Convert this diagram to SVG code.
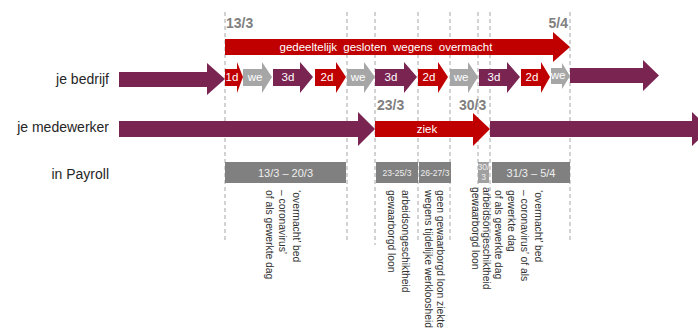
<svg xmlns="http://www.w3.org/2000/svg" width="698" height="333" viewBox="0 0 698 333">
<style>
.grid{stroke:#a6a6a6;stroke-width:1;stroke-dasharray:4 3;fill:none}
.pur{fill:#7a2452}
.red{fill:#c00000}
.gry{fill:#a6a6a6}
.bar{fill:#808080}
.lbl{font-family:"Liberation Sans",Arial,sans-serif;font-size:14px;fill:#262626;text-anchor:end}
.date{font-family:"Liberation Sans",Arial,sans-serif;font-size:14px;font-weight:bold;fill:#808080}
.in{font-family:"Liberation Sans",Arial,sans-serif;font-size:11.5px;fill:#ffffff;text-anchor:middle}
.bt{font-family:"Liberation Sans",Arial,sans-serif;font-size:11px;fill:#eeeeee;text-anchor:middle}
.bs{font-family:"Liberation Sans",Arial,sans-serif;font-size:8.5px;fill:#eeeeee;text-anchor:middle}
.rot{font-family:"Liberation Sans",Arial,sans-serif;font-size:10.3px;fill:#333333}
</style>
<rect width="698" height="333" fill="#ffffff"/>
<g id="gridlines">
<line class="grid" x1="225" y1="12" x2="225" y2="242"/>
<line class="grid" x1="347" y1="12" x2="347" y2="242"/>
<line class="grid" x1="375" y1="12" x2="375" y2="245"/>
<line class="grid" x1="418" y1="12" x2="418" y2="240"/>
<line class="grid" x1="450" y1="12" x2="450" y2="240"/>
<line class="grid" x1="478" y1="12" x2="478" y2="240"/>
<line class="grid" x1="490" y1="12" x2="490" y2="240"/>
<line class="grid" x1="570" y1="12" x2="570" y2="240"/>
</g>
<g id="row-labels">
<text class="lbl" x="109" y="84">je bedrijf</text>
<text class="lbl" x="109" y="132">je medewerker</text>
<text class="lbl" x="109" y="179">in Payroll</text>
</g>
<g id="dates">
<text class="date" x="226" y="28">13/3</text>
<text class="date" x="568" y="28" text-anchor="end">5/4</text>
<text class="date" x="377" y="110">23/3</text>
<text class="date" x="459" y="110">30/3</text>
</g>
<g id="gesloten">
<polygon class="red" points="225,39 553,39 553,32 570,47 553,62 553,55 225,55"/>
<text class="in" x="386" y="51" font-size="12" word-spacing="3">gedeeltelijk gesloten wegens overmacht</text>
</g>
<g id="bedrijf">
<polygon class="pur" points="119,72 207,72 207,63 225,79 207,95 207,87 119,87"/>
<g id="b-1d"><polygon class="red" points="225,69 237,69 237,62 243,77 237,93 237,86 225,86"/><text class="in" x="232" y="81" font-size="10">1d</text></g>
<g id="b-we1"><polygon class="gry" points="243,69 262,69 262,62 272,77 262,93 262,86 243,86"/><text class="in" x="255" y="81">we</text></g>
<g id="b-3d1"><polygon class="pur" points="273,69 300,69 300,62 313,77 300,93 300,86 273,86"/><text class="in" x="288" y="81">3d</text></g>
<g id="b-2d1"><polygon class="red" points="315,69 336,69 336,62 346,77 336,93 336,86 315,86"/><text class="in" x="327" y="81">2d</text></g>
<g id="b-we2"><polygon class="gry" points="347,69 364,69 364,62 375,77 364,93 364,86 347,86"/><text class="in" x="358" y="81">we</text></g>
<g id="b-3d2"><polygon class="pur" points="375,69 404,69 404,62 417,77 404,93 404,86 375,86"/><text class="in" x="391" y="81">3d</text></g>
<g id="b-2d2"><polygon class="red" points="418,69 438,69 438,62 448,77 438,93 438,86 418,86"/><text class="in" x="429" y="81">2d</text></g>
<g id="b-we3"><polygon class="gry" points="450,69 468,69 468,62 478,77 468,93 468,86 450,86"/><text class="in" x="461" y="81">we</text></g>
<g id="b-3d3"><polygon class="pur" points="479,69 507,69 507,62 520,77 507,93 507,86 479,86"/><text class="in" x="494" y="81">3d</text></g>
<g id="b-2d3"><polygon class="red" points="521,69 541,69 541,62 550,77 541,93 541,86 521,86"/><text class="in" x="532" y="81">2d</text></g>
<g id="b-we4"><polygon class="gry" points="551,68 562,68 562,63 570,76 562,89 562,84 551,84"/><text class="in" x="558" y="79" font-size="7">we</text></g>
<polygon class="pur" points="570,68 643,68 643,60 659,75.5 643,91 643,83 570,83"/>
</g>
<g id="medewerker">
<polygon class="pur" points="119,121 358,121 358,112 375,129 358,146 358,137 119,137"/>
<g id="ziek"><polygon class="red" points="375,121 473,121 473,113 490,129 473,146 473,137 375,137"/><text class="in" x="427" y="133">ziek</text></g>
<polygon class="pur" points="490,121 692,121 692,112 710,129 692,146 692,137 490,137"/>
</g>
<g id="payroll">
<g id="p1"><rect class="bar" x="225" y="162" width="121" height="21"/><text class="bt" x="285.5" y="176.5">13/3 – 20/3</text></g>
<g id="p2"><rect class="bar" x="376" y="162" width="42" height="21"/><text class="bs" x="397" y="175.5">23-25/3</text></g>
<g id="p3"><rect class="bar" x="419" y="162" width="32" height="21"/><text class="bs" x="435" y="175.5">26-27/3</text></g>
<g id="p4"><rect x="478" y="162" width="11" height="21" fill="#a0a0a0"/><text class="bs" x="483.5" y="170" font-size="7.5">30/</text><text class="bs" x="483.5" y="180" font-size="7.5">3</text></g>
<g id="p5"><rect class="bar" x="492" y="162" width="78" height="21"/><text class="bt" x="531" y="176.5">31/3 – 5/4</text></g>
</g>
<g id="notes">
<text class="rot" transform="translate(292.5,190) rotate(90)"><tspan x="0" dy="0">‘overmacht’ bed</tspan><tspan x="0" dy="13.5">– coronavirus’</tspan><tspan x="0" dy="13.5">of als gewerkte dag</tspan></text>
<text class="rot" transform="translate(401.5,190) rotate(90)"><tspan x="0" dy="0">arbeidsongeschiktheid</tspan><tspan x="0" dy="14">gewaarborgd loon</tspan></text>
<text class="rot" transform="translate(436.5,190) rotate(90)"><tspan x="0" dy="0">geen gewaarborgd loon ziekte</tspan><tspan x="0" dy="12">wegens tijdelijke werkloosheid</tspan></text>
<text class="rot" transform="translate(482.5,187) rotate(90)"><tspan x="0" dy="0">arbeidsongeschiktheid</tspan><tspan x="0" dy="11">gewaarborgd loon</tspan></text>
<text class="rot" transform="translate(534.5,190) rotate(90)"><tspan x="0" dy="0">‘overmacht’ bed</tspan><tspan x="0" dy="13.3">– coronavirus’ of als</tspan><tspan x="0" dy="13.3">gewerkte dag</tspan><tspan x="0" dy="13.3">of als gewerkte dag</tspan></text>
</g>
</svg>
